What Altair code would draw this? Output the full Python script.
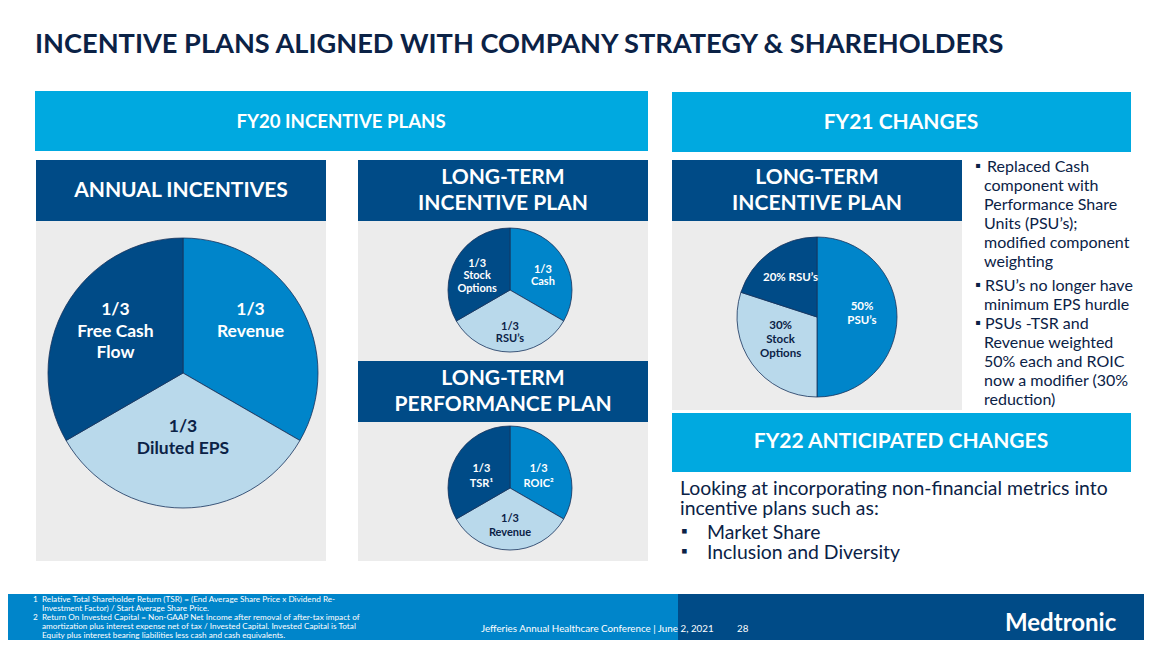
import altair as alt
import pandas as pd

# ---------------- data ----------------
annual_labels = ["1/3\nRevenue", "1/3\nDiluted EPS", "1/3\nFree Cash\nFlow"]
annual_shares = [1 / 3, 1 / 3, 1 / 3]
annual_tones = ["mid", "light", "dark"]

ltip_labels = ["1/3\nCash", "1/3\nRSU’s", "1/3\nStock\nOptions"]
ltip_shares = [1 / 3, 1 / 3, 1 / 3]
ltip_tones = ["mid", "light", "dark"]

ltpp_labels = ["1/3\nROIC²", "1/3\nRevenue", "1/3\nTSR¹"]
ltpp_shares = [1 / 3, 1 / 3, 1 / 3]
ltpp_tones = ["mid", "light", "dark"]

fy21_labels = ["50%\nPSU’s", "30%\nStock\nOptions", "20% RSU’s"]
fy21_shares = [0.50, 0.30, 0.20]
fy21_tones = ["mid", "light", "dark"]

title_text = "INCENTIVE PLANS ALIGNED WITH COMPANY STRATEGY & SHAREHOLDERS"
fy21_bullets = [
    ["Replaced Cash", "component with", "Performance Share", "Units (PSU’s);",
     "modified component", "weighting"],
    ["RSU’s no longer have", "minimum EPS hurdle"],
    ["PSUs -TSR and", "Revenue weighted", "50% each and ROIC",
     "now a modifier (30%", "reduction)"],
]
fy22_intro = ["Looking at incorporating non-financial metrics into",
              "incentive plans such as:"]
fy22_items = ["Market Share", "Inclusion and Diversity"]
footnotes = [
    ("1", ["Relative Total Shareholder Return (TSR) = (End Average Share Price x Dividend Re-",
           "Investment Factor) / Start Average Share Price."]),
    ("2", ["Return On Invested Capital = Non-GAAP Net Income after removal of after-tax impact of",
           "amortization plus interest expense net of tax / Invested Capital. Invested Capital is Total",
           "Equity plus interest bearing liabilities less cash and cash equivalents."]),
]
footer_event = "Jefferies Annual Healthcare Conference | June 2, 2021"
page_number = "28"
brand = "Medtronic"

# ---------------- style / layout ----------------
FONT = "Lato"
OFF = 8  # page margin
W, H = 1136, 632
NAVY = "#004b87"
MID = "#0085ca"
LIGHT = "#b9d9eb"
CYAN = "#00a9e0"
GRAY = "#ececec"
INK = "#0b2246"
EDGE = "#16325c"
WHITE = "#ffffff"
PIE_FILL = {"dark": NAVY, "mid": MID, "light": LIGHT}
PIE_INK = {"dark": WHITE, "mid": WHITE, "light": INK}

XS = alt.Scale(domain=[OFF, OFF + W], range=[0, W], nice=False, zero=False)
YS = alt.Scale(domain=[OFF, OFF + H], range=[0, H], nice=False, zero=False)

rects = pd.DataFrame(
    [
        (35, 91, 648, 151, CYAN),
        (672, 92, 1131, 152, CYAN),
        (36, 160, 326, 221, NAVY), (36, 221, 326, 561, GRAY),
        (358, 160, 648, 221, NAVY), (358, 221, 648, 361, GRAY),
        (358, 361, 648, 422, NAVY), (358, 422, 648, 561, GRAY),
        (672, 160, 962, 221, NAVY), (672, 221, 962, 410, GRAY),
        (672, 413, 1131, 472, CYAN),
        (0, 594, 678, 660, MID), (678, 594, 1160, 660, NAVY),
    ],
    columns=["x", "y", "x2", "y2", "c"],
)

layers = [
    alt.Chart(rects).mark_rect().encode(
        x=alt.X("x:Q", scale=XS, axis=None), x2="x2:Q",
        y=alt.Y("y:Q", scale=YS, axis=None), y2="y2:Q",
        color=alt.Color("c:N", scale=None),
    )
]


def ml(text, x, y, s, c, lh):
    """explode a multi-line block into single lines centred on y"""
    lines = text.split("\n")
    n = len(lines)
    return [(ln, x, y + (i - (n - 1) / 2) * lh, s, c) for i, ln in enumerate(lines)]


def text_layer(rows, align="left", weight="normal"):
    df = pd.DataFrame(rows, columns=["t", "x", "y", "s", "c"])
    return alt.Chart(df).mark_text(
        font=FONT, align=align, baseline="middle", fontWeight=weight
    ).encode(
        x=alt.X("x:Q", scale=XS, axis=None),
        y=alt.Y("y:Q", scale=YS, axis=None),
        text="t:N",
        color=alt.Color("c:N", scale=None),
        size=alt.Size("s:Q", scale=None),
    )


# headers (bold, centered)
hdr = []
hdr += ml("FY20 INCENTIVE PLANS", 341, 122, 18.6, WHITE, 26)
hdr += ml("FY21 CHANGES", 901, 123, 21, WHITE, 26)
hdr += ml("ANNUAL INCENTIVES", 181, 191, 21, WHITE, 26)
hdr += ml("LONG-TERM\nINCENTIVE PLAN", 503, 191, 21, WHITE, 26)
hdr += ml("LONG-TERM\nPERFORMANCE PLAN", 503, 392, 21, WHITE, 26)
hdr += ml("LONG-TERM\nINCENTIVE PLAN", 817, 191, 21, WHITE, 26)
hdr += ml("FY22 ANTICIPATED CHANGES", 901, 442, 21, WHITE, 26)
layers.append(text_layer(hdr, align="center", weight="bold"))

# title and brand (bold, left)
layers.append(text_layer([
    (title_text, 35, 45, 27.2, INK),
    (brand, 1005, 624, 24, WHITE),
], weight="bold"))

# regular left text
rows = []
y = 167
for bi, group in enumerate(fy21_bullets):
    rows.append(("▪", 975, y - 1, 15, INK))
    for li, line in enumerate(group):
        x = (987 if bi == 0 else 985) if li == 0 else 984
        rows.append((line, x, y, 16, INK))
        y += 19
    y += 5 if bi == 0 else 0
for i, line in enumerate(fy22_intro):
    rows.append((line, 680, 488.5 + 20 * i, 19.4, INK))
for i, item in enumerate(fy22_items):
    rows.append(("▪", 681, 532 + 20 * i, 17, INK))
    rows.append((item, 707, 532.5 + 20 * i, 19.4, INK))
fy = 599.5
for num, lines in footnotes:
    rows.append((num, 33, fy, 8.2, WHITE))
    for line in lines:
        rows.append((line, 42, fy, 8.2, WHITE))
        fy += 9.2
rows.append((footer_event, 481, 629, 9.8, WHITE))
rows.append((page_number, 737, 629, 9.8, WHITE))
layers.append(text_layer(rows))


def pie(labels, shares, tones, cx, cy, r, lab_r, lab_size, lab_lh, lab_dy=0, centred=True):
    df = pd.DataFrame({"label": labels, "share": shares, "tone": tones,
                       "idx": list(range(len(labels)))})
    df["fill"] = df["tone"].map(PIE_FILL)
    df["ink"] = df["tone"].map(PIE_INK)
    df["n"] = df["label"].str.count("\n") + 1
    base = alt.Chart(df).encode(
        theta=alt.Theta("share:Q", stack=True),
        order=alt.Order("idx:Q", sort="ascending"),
        x=alt.value(cx - OFF), y=alt.value(cy - OFF),
    )
    out = [base.mark_arc(radius=r, stroke=EDGE, strokeWidth=0.8).encode(
        color=alt.Color("fill:N", scale=None))]
    groups = sorted(df["n"].unique()) if centred else [None]
    for n in groups:
        if n is None:
            b, shift = base, 0
        else:
            b = base.transform_calculate(t=f"datum.n == {int(n)} ? datum.label : ''")
            shift = (int(n) - 1) * lab_lh / 2
        out.append(
            b.mark_text(radius=lab_r, font=FONT, fontSize=lab_size, fontWeight="bold",
                        lineBreak="\n", lineHeight=lab_lh, dy=lab_dy - shift,
                        align="center", baseline="middle")
            .encode(text=("t:N" if n is not None else "label:N"),
                    color=alt.Color("ink:N", scale=None))
        )
    return out


layers += pie(annual_labels, annual_shares, annual_tones, 183, 373, 135, 78, 17.5, 21.5, -24,
              centred=False)
layers += pie(ltip_labels, ltip_shares, ltip_tones, 510, 290, 62, 38, 11, 12.5, 5)
layers += pie(ltpp_labels, ltpp_shares, ltpp_tones, 510, 488, 62, 33, 11, 14.5, 5)
layers += pie(fy21_labels, fy21_shares, fy21_tones, 817, 317, 80, 45, 11.5, 14, -3)

chart = alt.layer(*layers).properties(
    width=W, height=H, padding=0, autosize="none", background="white"
).configure_view(stroke=None)

chart.save("out.html", embed_options={"renderer": "svg", "actions": False})
